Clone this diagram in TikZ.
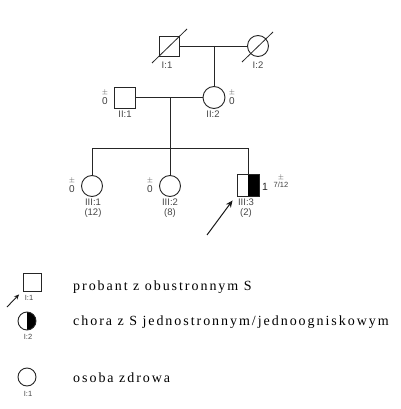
\documentclass[tikz,border=0pt]{standalone}
\usepackage{fontspec}
\setmainfont{Liberation Serif}
\newfontfamily\labfont{Liberation Sans}
\newfontfamily\legfont[LetterSpace=14]{Liberation Serif}
\usetikzlibrary{arrows.meta}
\begin{document}
\begin{tikzpicture}[x=1pt,y=-1pt,
  ln/.style={draw=black!85, line width=0.9pt},
  male/.style={rectangle, draw=black!85, line width=0.9pt, minimum size=20pt, inner sep=0pt, fill=white},
  female/.style={circle, draw=black!85, line width=0.9pt, minimum size=21pt, inner sep=0pt, fill=white},
  halfblack/.style={path picture={\fill[black] (path picture bounding box.north) rectangle (path picture bounding box.south east);}},
  idlab/.style={font=\labfont\fontsize{9.5}{9.5}\selectfont, text=black!72, inner sep=0pt},
  smlab/.style={font=\labfont\fontsize{7.5}{7.5}\selectfont, text=black!72, inner sep=0pt},
  zero/.style={font=\labfont\fontsize{10}{10}\selectfont, text=black!75, inner sep=0pt, align=center},
  pmsign/.style={font=\fontsize{7}{7}\selectfont, text=black!70, inner sep=0pt},
  numlab/.style={font=\labfont\fontsize{10.5}{10.5}\selectfont, text=black!85, inner sep=0pt},
  leg/.style={font=\legfont\fontsize{14}{14}\selectfont, anchor=base west, inner sep=0pt},
  slash/.style={draw=black!85, line width=0.8pt},
  parrow/.style={draw=black!90, line width=1pt, -{Stealth[length=7pt,width=6pt]}}
]
\useasboundingbox (0,0) rectangle (400,409);
\fill[white] (0,0) rectangle (400,409);

% Generation I
\node[male] (I1) at (169,46) {};
\node[female] (I2) at (258,46) {};
\draw[slash] ([shift={(-17,17)}]I1.center) -- ([shift={(18,-17)}]I1.center);
\draw[slash] ([shift={(-16,16)}]I2.center) -- ([shift={(15,-14)}]I2.center);
\node[idlab] (lI1) at (167,65) {I:1};
\node[idlab] (lI2) at (258,65) {I:2};
\coordinate (m1) at (214,46);
\draw[ln] (I1.east) -- (I2.west);

% Generation II
\node[male, minimum size=21pt] (II1) at (124.5,97.5) {};
\node[female, minimum size=22pt] (II2) at (214,97.5) {};
\draw[ln] (m1) -- (II2.north);
\coordinate (m2) at (170,97.5);
\draw[ln] (II1.east) -- (II2.west);
\node[idlab] (lII1) at (125,114) {II:1};
\node[idlab] (lII2) at (213,114) {II:2};
\node[pmsign] (pII1) at (105,93) {$\pm$};
\node[zero] (zII1) at (105,101) {0};
\node[pmsign] (pII2) at (232,93) {$\pm$};
\node[zero] (zII2) at (232,101) {0};

% Sibship
\coordinate (sib) at (170,148);
\coordinate (sL) at (92,148);
\coordinate (sR) at (248,148);
\draw[ln] (m2) -- (sib);
\draw[ln] (sL) -- (sR);

% Generation III
\node[female] (III1) at (92,186) {};
\node[female] (III2) at (170,186) {};
\node[male, minimum size=22pt, halfblack] (III3) at (248,185) {};
\draw[ln] (sL) -- (III1.north);
\draw[ln] (sib) -- (III2.north);
\draw[ln] (sR) -- (III3.north);
\node[idlab] (lIII1) at (93,202) {III:1};
\node[idlab] (aIII1) at (93,213) {(12)};
\node[idlab] (lIII2) at (170,202) {III:2};
\node[idlab] (aIII2) at (170,213) {(8)};
\node[idlab] (lIII3) at (246,202) {III:3};
\node[idlab] (aIII3) at (246,213) {(2)};
\node[pmsign] (pIII1) at (72,181) {$\pm$};
\node[zero] (zIII1) at (72,189) {0};
\node[pmsign] (pIII2) at (150,181) {$\pm$};
\node[zero] (zIII2) at (150,189) {0};
\node[numlab] (nIII3) at (265,187) {1};
\node[pmsign] (ppIII3) at (281,178) {$\pm$};
\node[zero, font=\labfont\fontsize{7.5}{7.5}\selectfont] (pIII3) at (281,185) {7/12};
\coordinate (a3) at (207,235);
\draw[parrow] (a3) -- ([shift={(-4,4)}]III3.south west);

% Legend
\node[male, minimum size=18pt] (L1) at (32.5,282) {};
\node[smlab] (lL1) at (29,298) {I:1};
\coordinate (aL) at (7,307);
\draw[draw=black!90, line width=0.9pt, -{Stealth[length=5pt,width=4.5pt]}] (aL) -- ([shift={(-4,3)}]L1.south west);
\node[leg] (t1) at (73,290) {probant z obustronnym S};

\node[female, minimum size=18pt, halfblack] (L2) at (27,321) {};
\node[smlab] (lL2) at (28,337) {I:2};
\node[leg] (t2) at (73,325) {chora z S jednostronnym/jednoogniskowym};

\node[female, minimum size=18pt] (L3) at (27,377) {};
\node[smlab] (lL3) at (28,394) {I:1};
\node[leg] (t3) at (73,382) {osoba zdrowa};
\end{tikzpicture}
\end{document}
